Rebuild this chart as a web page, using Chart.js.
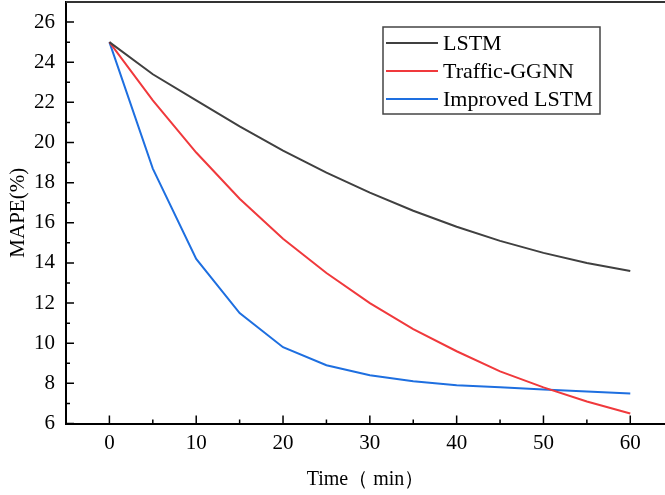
<!DOCTYPE html>
<html>
<head>
<meta charset="utf-8">
<script src="https://cdn.jsdelivr.net/npm/chart.js@4.4.1/dist/chart.umd.min.js"></script>
<style>
  html, body { margin: 0; padding: 0; background: #fff; overflow: hidden; }
  #chart { display: block; }
</style>
</head>
<body>
<canvas id="chart" width="665" height="495"></canvas>
<script>
const timeMin = [0, 5, 10, 15, 20, 25, 30, 35, 40, 45, 50, 55, 60];
const lstm = [25, 23.4, 22.1, 20.8, 19.6, 18.5, 17.5, 16.6, 15.8, 15.1, 14.5, 14.0, 13.6];
const trafficGgnn = [25, 22.1, 19.5, 17.2, 15.2, 13.5, 12.0, 10.7, 9.6, 8.6, 7.8, 7.1, 6.5];
const improvedLstm = [25, 18.7, 14.2, 11.5, 9.8, 8.9, 8.4, 8.1, 7.9, 7.8, 7.7, 7.6, 7.5];
const seriesNames = ['LSTM', 'Traffic-GGNN', 'Improved LSTM'];
const xTicks = [0, 10, 20, 30, 40, 50, 60];
const xMinor = [5, 15, 25, 35, 45, 55];
const yTicks = [6, 8, 10, 12, 14, 16, 18, 20, 22, 24, 26];
const yMinor = [7, 9, 11, 13, 15, 17, 19, 21, 23, 25];

const colors = ['#404040', '#f0393c', '#1e6fe0'];
const serif = "'Liberation Serif', 'Times New Roman', serif";

const toPoints = vals => vals.map((v, i) => ({ x: timeMin[i], y: v }));

// inward tick marks, top frame line and the boxed legend
const frame = {
    id: 'frame',
    afterDraw(chart) {
        const { ctx, chartArea: a, scales: { x, y } } = chart;
        ctx.save();
        ctx.strokeStyle = '#000';
        ctx.lineWidth = 1.5;
        ctx.beginPath();
        const xt = (v, len) => {
            const px = x.getPixelForValue(v);
            ctx.moveTo(px, a.bottom);
            ctx.lineTo(px, a.bottom - len);
        };
        const yt = (v, len) => {
            const py = y.getPixelForValue(v);
            ctx.moveTo(a.left, py);
            ctx.lineTo(a.left + len, py);
        };
        xTicks.forEach(v => xt(v, 8));
        xMinor.forEach(v => xt(v, 4));
        yTicks.forEach(v => yt(v, 8));
        yMinor.forEach(v => yt(v, 4));
        ctx.stroke();

        ctx.strokeStyle = '#333';
        ctx.lineWidth = 2;
        ctx.beginPath();
        ctx.moveTo(a.left, a.top);
        ctx.lineTo(a.right, a.top);
        ctx.stroke();

        // legend
        const bx = 383, by = 27, bw = 217, bh = 87;
        ctx.fillStyle = '#fff';
        ctx.fillRect(bx, by, bw, bh);
        ctx.strokeStyle = '#444';
        ctx.lineWidth = 1.5;
        ctx.strokeRect(bx, by, bw, bh);
        ctx.font = '22px ' + serif;
        ctx.textBaseline = 'middle';
        ctx.textAlign = 'left';
        chart.data.datasets.forEach((ds, i) => {
            const ry = 43 + i * 28;
            ctx.strokeStyle = ds.borderColor;
            ctx.lineWidth = 2;
            ctx.beginPath();
            ctx.moveTo(386, ry);
            ctx.lineTo(438, ry);
            ctx.stroke();
            ctx.fillStyle = '#000';
            ctx.fillText(ds.label, 443, ry + 1);
        });
        ctx.restore();
    }
};

new Chart(document.getElementById('chart').getContext('2d'), {
    type: 'line',
    data: {
        datasets: [lstm, trafficGgnn, improvedLstm].map((vals, i) => ({
            label: seriesNames[i],
            data: toPoints(vals),
            borderColor: colors[i],
            borderWidth: 2,
            pointRadius: 0,
            tension: 0,
            fill: false
        }))
    },
    options: {
        responsive: false,
        animation: false,
        layout: { padding: { top: 2, right: 0, left: 0, bottom: 0 } },
        plugins: { legend: { display: false }, tooltip: { enabled: false } },
        scales: {
            x: {
                type: 'linear',
                min: -5,
                max: 64,
                afterBuildTicks: s => { s.ticks = xTicks.map(v => ({ value: v })); },
                afterFit: s => { s.height = 71.5; s.paddingLeft = 0; s.paddingRight = 0; },
                grid: { display: false, drawTicks: false },
                border: { display: true, color: '#000', width: 2 },
                ticks: { color: '#000', padding: 7, maxRotation: 0, font: { family: serif, size: 21 } },
                title: {
                    display: true,
                    text: 'Time（ min）',
                    color: '#000',
                    padding: { top: 0, bottom: 3 },
                    font: { family: serif, size: 20 }
                }
            },
            y: {
                min: 6,
                max: 27,
                afterBuildTicks: s => { s.ticks = yTicks.map(v => ({ value: v })); },
                afterFit: s => { s.width = 66; s.paddingTop = 0; s.paddingBottom = 0; },
                grid: { display: false, drawTicks: false },
                border: { display: true, color: '#000', width: 2 },
                ticks: { color: '#000', padding: 11, font: { family: serif, size: 21 } },
                title: {
                    display: true,
                    text: 'MAPE(%)',
                    color: '#000',
                    padding: { top: 6, bottom: 0 },
                    font: { family: serif, size: 21 }
                }
            }
        }
    },
    plugins: [frame]
});
</script>
</body>
</html>
